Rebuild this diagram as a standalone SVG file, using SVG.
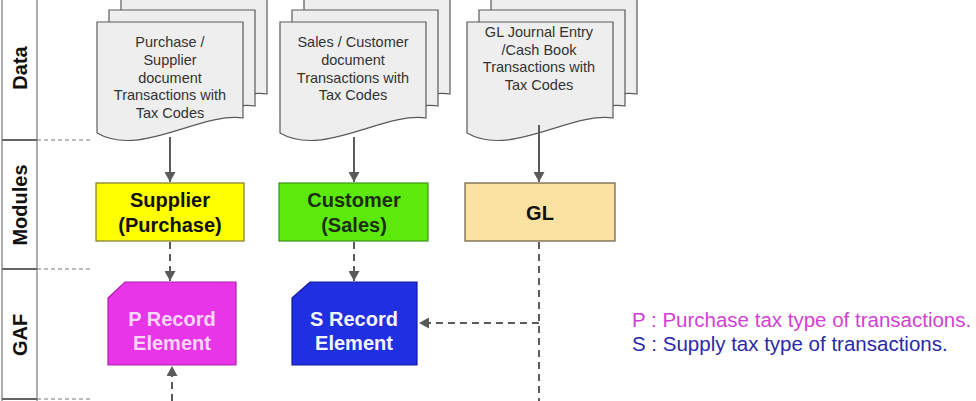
<svg xmlns="http://www.w3.org/2000/svg" width="976" height="401" viewBox="0 0 976 401">
<style>
.doc{fill:#eeeeee;stroke:#5a5a5a;stroke-width:1.2}
.dt{font-family:"Liberation Sans",Arial,sans-serif;font-size:14.5px;fill:#333;text-anchor:middle}
.mt{font-family:"Liberation Sans",Arial,sans-serif;font-size:20px;font-weight:bold;text-anchor:middle}
.lane{font-family:"Liberation Sans",Arial,sans-serif;font-size:20px;font-weight:bold;fill:#111;text-anchor:middle}
.leg{font-family:"Liberation Sans",Arial,sans-serif;font-size:20.5px}
.solid{stroke:#5a5a5a;stroke-width:2;fill:none;marker-end:url(#ah)}
.dash{stroke:#5a5a5a;stroke-width:2;fill:none;stroke-dasharray:7,5}
.sep{stroke:#777;stroke-width:1;stroke-dasharray:4,3;fill:none}
</style>
<defs>
<marker id="ah" markerUnits="userSpaceOnUse" markerWidth="11" markerHeight="11" refX="10" refY="5.5" orient="auto">
<path d="M0,0 L10,5.5 L0,11 z" fill="#5a5a5a"/>
</marker>
<path id="docshape" d="M0,0 H146 V96 C103,90 43,136 0,111 Z"/>
</defs>
<rect width="976" height="401" fill="#ffffff"/>

<g id="lanes">
<line x1="2" y1="0" x2="2" y2="401" stroke="#777" stroke-width="1.2"/>
<line x1="37" y1="0" x2="37" y2="401" stroke="#777" stroke-width="1.2"/>
<line x1="2" y1="140" x2="37" y2="140" stroke="#666" stroke-width="2"/>
<line x1="2" y1="269" x2="37" y2="269" stroke="#666" stroke-width="2"/>
<line x1="2" y1="399" x2="37" y2="399" stroke="#666" stroke-width="2"/>
<line class="sep" x1="37" y1="140" x2="92" y2="140"/>
<line class="sep" x1="37" y1="269" x2="92" y2="269"/>
<line class="sep" x1="37" y1="399" x2="92" y2="399"/>
<text class="lane" transform="translate(27,68) rotate(-90)">Data</text>
<text class="lane" transform="translate(27,205) rotate(-90)">Modules</text>
<text class="lane" transform="translate(27,335) rotate(-90)">GAF</text>
</g>

<g id="doc-purchase">
<use href="#docshape" class="doc" x="121" y="-2"/>
<use href="#docshape" class="doc" x="109" y="10"/>
<use href="#docshape" class="doc" x="97" y="22"/>
<text class="dt" x="170" y="47">Purchase /</text>
<text class="dt" x="170" y="65">Supplier</text>
<text class="dt" x="170" y="83">document</text>
<text class="dt" x="170" y="100">Transactions with</text>
<text class="dt" x="170" y="118">Tax Codes</text>
</g>

<g id="doc-sales">
<use href="#docshape" class="doc" x="304" y="-2"/>
<use href="#docshape" class="doc" x="292" y="10"/>
<use href="#docshape" class="doc" x="280" y="22"/>
<text class="dt" x="353" y="47">Sales / Customer</text>
<text class="dt" x="353" y="65">document</text>
<text class="dt" x="353" y="83">Transactions with</text>
<text class="dt" x="353" y="100">Tax Codes</text>
</g>

<g id="doc-gl">
<use href="#docshape" class="doc" x="491" y="-2"/>
<use href="#docshape" class="doc" x="479" y="10"/>
<use href="#docshape" class="doc" x="467" y="22"/>
<text class="dt" x="539" y="37">GL Journal Entry</text>
<text class="dt" x="539" y="55">/Cash Book</text>
<text class="dt" x="539" y="72">Transactions with</text>
<text class="dt" x="539" y="90">Tax Codes</text>
</g>

<g id="mod-supplier">
<rect x="96" y="183" width="148" height="58" fill="#ffff00" stroke="#7a7a30" stroke-width="1.2"/>
<text class="mt" x="170" y="207" fill="#111">Supplier</text>
<text class="mt" x="170" y="232" fill="#111">(Purchase)</text>
</g>

<g id="mod-customer">
<rect x="279" y="183" width="149" height="58" fill="#5cea0c" stroke="#3f8f1a" stroke-width="1.2"/>
<text class="mt" x="354" y="207" fill="#1c2d12">Customer</text>
<text class="mt" x="354" y="232" fill="#1c2d12">(Sales)</text>
</g>

<g id="mod-gl">
<rect x="465" y="183" width="150" height="58" fill="#fbe1a2" stroke="#6a5a45" stroke-width="1.2"/>
<text class="mt" x="540" y="220" fill="#111">GL</text>
</g>

<g id="gaf-p">
<path d="M108,298 L125,282 H236 V365 H108 Z" fill="#e935e8" stroke="#b020b0" stroke-width="1.2"/>
<text class="mt" x="172" y="326" fill="#fbd8fb">P Record</text>
<text class="mt" x="172" y="350" fill="#fbd8fb">Element</text>
</g>

<g id="gaf-s">
<path d="M292,298 L310,282 H417 V365 H292 Z" fill="#2030e0" stroke="#1418a0" stroke-width="1.2"/>
<text class="mt" x="354" y="326" fill="#f4f4ff">S Record</text>
<text class="mt" x="354" y="350" fill="#f4f4ff">Element</text>
</g>

<g id="legend">
<text class="leg" x="632" y="327" fill="#d13fd4">P : Purchase tax type of transactions.</text>
<text class="leg" x="632" y="351" fill="#2a2aa8">S : Supply tax type of transactions.</text>
</g>

<g id="connectors">
<line class="solid" x1="170" y1="137" x2="170" y2="182"/>
<line class="solid" x1="354" y1="137" x2="354" y2="182"/>
<line class="solid" x1="539" y1="125" x2="539" y2="182"/>
<line class="dash" x1="170" y1="242" x2="170" y2="281" marker-end="url(#ah)"/>
<line class="dash" x1="354" y1="242" x2="354" y2="281" marker-end="url(#ah)"/>
<line class="dash" x1="539" y1="242" x2="539" y2="401"/>
<line class="dash" x1="539" y1="323" x2="419" y2="323" marker-end="url(#ah)"/>
<line class="dash" x1="172" y1="401" x2="172" y2="366" marker-end="url(#ah)"/>
</g>
</svg>
